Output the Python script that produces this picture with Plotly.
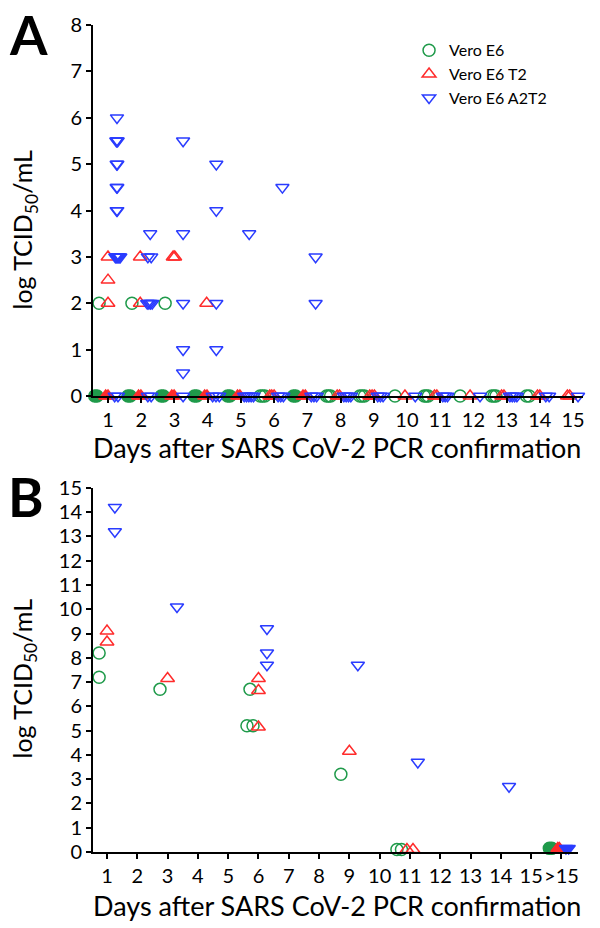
import plotly.graph_objects as go

# ---------------- Panel A data (days, log TCID50/mL) ----------------
# individual (open) points
a_e6_x = [0.73, 1.72, 2.72,
          5.58, 5.65, 5.72,
          7.58, 7.64, 7.7,
          8.58, 8.65, 8.72,
          9.64,
          10.52, 10.58, 10.64,
          11.6,
          12.55, 12.62, 12.68,
          13.6, 13.68]
a_e6_y = [2, 2, 2] + [0] * 19

a_t2_x = [1.0, 1.0, 1.0, 1.97, 1.97, 2.96, 3.01, 3.97,
          5.87, 5.93, 6.0,
          7.9, 7.97,
          8.88, 8.95, 9.02,
          9.94,
          10.83, 10.9,
          11.9,
          12.85, 12.92,
          13.93, 14.0,
          14.83, 14.9]
a_t2_y = [3, 2.5, 2, 3, 2, 3, 3, 2] + [0] * 18

a_a2t2_x = [1.27, 1.25, 1.27, 1.29, 1.26, 1.28, 1.26, 1.28, 1.26, 1.28,
            1.22, 1.25, 1.28, 1.31, 1.34, 1.37,
            2.27, 2.2, 2.3, 2.18, 2.23, 2.28, 2.33,
            3.26, 3.26, 3.26, 3.26, 3.26,
            4.26, 4.26, 4.26, 4.26,
            5.25, 6.25, 7.25, 7.25,
            1.2, 1.3,
            2.2, 2.3,
            3.26,
            4.15, 4.25, 4.35,
            5.1, 5.17, 5.24, 5.31, 5.38,
            6.12, 6.2, 6.28,
            7.12, 7.2, 7.28,
            8.1, 8.17, 8.24, 8.31,
            9.12, 9.2, 9.28,
            10.25,
            11.08, 11.15, 11.22,
            12.2,
            13.1, 13.17, 13.24, 13.31,
            14.18, 14.28,
            15.15]
a_a2t2_y = [6, 5.5, 5.5, 5.5, 5, 5, 4.5, 4.5, 4, 4,
            3, 3, 3, 3, 3, 3,
            3.5, 3, 3, 2, 2, 2, 2,
            5.5, 3.5, 2, 1, 0.5,
            5, 4, 2, 1,
            3.5, 4.5, 3, 2] + [0] * 40

# dense clusters of many overlapping negative samples (value 0)
a_e6_dense_x = [0.6, 0.67, 1.6, 1.67, 2.6, 2.67, 3.6, 3.67, 4.6, 4.67, 6.58, 6.65]
a_e6_dense_y = [0] * 12
a_t2_dense_x = [0.93, 1.0, 1.92, 1.99, 2.92, 2.99, 3.91, 3.98, 4.9, 4.97, 6.87, 6.94]
a_t2_dense_y = [0] * 12

# ---------------- Panel B data ----------------
b_e6_x = [0.74, 0.74, 2.75, 5.72, 5.62, 5.82, 8.72, 10.57, 10.72]
b_e6_y = [8.2, 7.2, 6.7, 6.7, 5.2, 5.2, 3.2, 0.1, 0.1]

b_t2_x = [1.0, 1.0, 3.0, 6.0, 6.0, 6.0, 9.0, 10.9, 11.1]
b_t2_y = [9.1, 8.65, 7.15, 7.15, 6.65, 5.15, 4.15, 0.1, 0.1]

b_a2t2_x = [1.26, 1.26, 3.31, 6.28, 6.28, 6.28, 9.28, 11.26, 14.27]
b_a2t2_y = [14.2, 13.2, 10.1, 9.2, 8.2, 7.7, 7.7, 3.7, 2.7]

b_e6_dense_x = [15.6, 15.68]
b_e6_dense_y = [0.15, 0.15]
b_t2_dense_x = [15.88, 15.93]
b_t2_dense_y = [0.15, 0.15]
b_a2t2_dense_x = [16.15, 16.24]
b_a2t2_dense_y = [0.15, 0.15]

a_ticks = list(range(0, 9))
b_ticks = list(range(0, 16))
a_xticks = list(range(1, 16))
b_xticks = list(range(1, 17))
b_xlabels = [str(i) for i in range(1, 16)] + [">15"]

series_names = ["Vero E6", "Vero E6 T2", "Vero E6 A2T2"]
colors = ["#1f9a4a", "#ff2b2b", "#2a3cff"]
symbols = ["circle", "triangle-up", "triangle-down"]
sizes = [12, 12, 11.5]

FONT = "Lato"

fig = go.Figure()


def add(xs, ys, i, ax, ay, filled=False, legend=False):
    sym = symbols[i] if filled else symbols[i] + "-open"
    fig.add_trace(go.Scatter(
        x=xs, y=ys, mode="markers", name=series_names[i], showlegend=legend,
        marker=dict(symbol=sym, size=sizes[i], color=colors[i],
                    line=dict(width=1.5, color=colors[i])),
        cliponaxis=False, xaxis=ax, yaxis=ay))


a_data = [(a_e6_x, a_e6_y), (a_t2_x, a_t2_y), (a_a2t2_x, a_a2t2_y)]
a_dense = [(a_e6_dense_x, a_e6_dense_y), (a_t2_dense_x, a_t2_dense_y)]
b_data = [(b_e6_x, b_e6_y), (b_t2_x, b_t2_y), (b_a2t2_x, b_a2t2_y)]
b_dense = [(b_e6_dense_x, b_e6_dense_y), (b_t2_dense_x, b_t2_dense_y),
           (b_a2t2_dense_x, b_a2t2_dense_y)]

for i, (xs, ys) in enumerate(a_dense):
    add(xs, ys, i, "x", "y", filled=True)
for i, (xs, ys) in enumerate(a_data):
    add(xs, ys, i, "x", "y", legend=True)
for i, (xs, ys) in enumerate(b_dense):
    add(xs, ys, i, "x2", "y2", filled=True)
for i, (xs, ys) in enumerate(b_data):
    add(xs, ys, i, "x2", "y2")

axis_common = dict(showline=True, linecolor="black", linewidth=2, ticks="outside",
                   ticklen=5, tickwidth=1.5, tickcolor="black", showgrid=False,
                   zeroline=False, tickangle=0,
                   tickfont=dict(family=FONT, size=20, color="black"))

fig.update_layout(
    width=600, height=928,
    margin=dict(l=93, r=17, t=23, b=76),
    paper_bgcolor="white", plot_bgcolor="white",
    font=dict(family=FONT, color="black"),
    xaxis=dict(domain=[0, 1], range=[0.548, 15.3], tickvals=a_xticks,
               anchor="y", **axis_common),
    yaxis=dict(domain=[0.5513, 1], range=[0, 8], tickvals=a_ticks,
               anchor="x", **axis_common),
    xaxis2=dict(domain=[0, 0.99], range=[0.538, 16.55], tickvals=b_xticks,
                ticktext=b_xlabels, anchor="y2", **axis_common),
    yaxis2=dict(domain=[0, 0.4403], range=[0, 15], tickvals=b_ticks,
                anchor="x2", **axis_common),
    legend=dict(x=0.645, y=0.99, xanchor="left", yanchor="top",
                font=dict(family=FONT, size=16, color="black"),
                bgcolor="rgba(0,0,0,0)", tracegroupgap=0, itemwidth=30),
    showlegend=True,
)


def px_x(p):
    return (p - 93) / 490


def px_y(p):
    return (852 - p) / 829


xtitle = "Days after SARS CoV-2 PCR confirmation"
ytitle = "log TCID<sub>50</sub>/mL"
anns = [
    dict(text=xtitle, x=px_x(337), y=px_y(447), font=dict(size=27)),
    dict(text=xtitle, x=px_x(337), y=px_y(906), font=dict(size=27)),
    dict(text=ytitle, x=px_x(24), y=px_y(228), textangle=-90, font=dict(size=25)),
    dict(text=ytitle, x=px_x(24), y=px_y(678), textangle=-90, font=dict(size=25)),
    dict(text="<b>A</b>", x=px_x(28), y=px_y(33), font=dict(size=54)),
    dict(text="<b>B</b>", x=px_x(26), y=px_y(496), font=dict(size=54)),
]
for a in anns:
    a.update(xref="paper", yref="paper", showarrow=False, xanchor="center",
             yanchor="middle")
    a["font"].update(family=FONT, color="black")
    fig.add_annotation(**a)

fig.write_html("out.html")
